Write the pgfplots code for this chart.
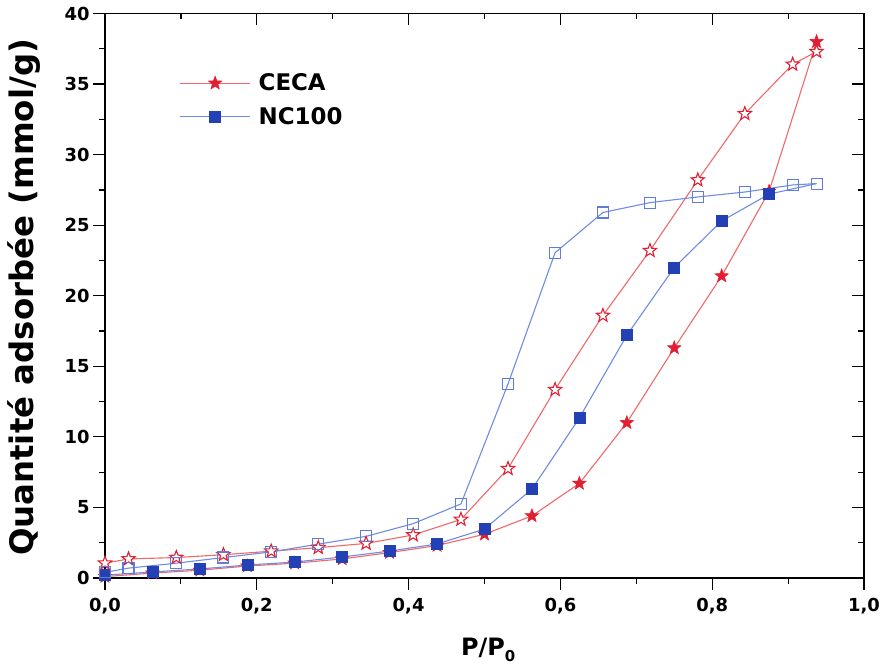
\documentclass[border=0pt]{standalone}
\usepackage{pgfplots}
\pgfplotsset{compat=1.18}
\usepackage{fontspec}
\setmainfont{DejaVu Sans}
\usetikzlibrary{calc}
\definecolor{cred}{RGB}{226,30,50}
\definecolor{credl}{RGB}{240,105,105}
\definecolor{cblue}{RGB}{35,65,180}
\definecolor{cbluel}{RGB}{110,140,225}
\pgfdeclareplotmark{fstar}{%
 \pgfpathmoveto{\pgfpointpolar{90}{\pgfplotmarksize}}%
 \pgfpathlineto{\pgfpointpolar{126}{0.42\pgfplotmarksize}}%
 \pgfpathlineto{\pgfpointpolar{162}{\pgfplotmarksize}}%
 \pgfpathlineto{\pgfpointpolar{198}{0.42\pgfplotmarksize}}%
 \pgfpathlineto{\pgfpointpolar{234}{\pgfplotmarksize}}%
 \pgfpathlineto{\pgfpointpolar{270}{0.42\pgfplotmarksize}}%
 \pgfpathlineto{\pgfpointpolar{306}{\pgfplotmarksize}}%
 \pgfpathlineto{\pgfpointpolar{342}{0.42\pgfplotmarksize}}%
 \pgfpathlineto{\pgfpointpolar{18}{\pgfplotmarksize}}%
 \pgfpathlineto{\pgfpointpolar{54}{0.42\pgfplotmarksize}}%
 \pgfpathclose
 \pgfusepathqfillstroke
}
\pgfplotsset{
 common/.style={scale only axis, width=759bp, height=564.5bp,
  xmin=0, xmax=1, ymin=0, ymax=40,
  xtick={0,0.2,0.4,0.6,0.8,1.0}, minor xtick={0.1,0.3,0.5,0.7,0.9},
  ytick={0,5,...,40}, minor ytick={2.5,7.5,...,37.5},
  major tick length=12bp, minor tick length=6bp,
  every tick/.style={black, line width=1.2bp},
  axis line style={line width=1.3bp, black, -},
 }
}
\begin{document}
\begin{tikzpicture}
\begin{axis}[common, name=ax,
 axis x line*=bottom, axis y line*=left, tick align=outside,
 /pgf/number format/assume math mode=true,
 xticklabel={\pgfmathprintnumber[fixed,fixed zerofill,precision=1,use comma]{\tick}},
 xticklabel style={font=\fontsize{18}{20}\selectfont\bfseries, yshift=-5bp},
 yticklabel style={font=\fontsize{18}{20}\selectfont\bfseries},
 xlabel={P/P\raisebox{-6bp}{\fontsize{15}{15}\selectfont 0}},
 xlabel style={at={(axis description cs:0.505,-0.137)}, anchor=base, font=\fontsize{24}{26}\selectfont\bfseries},
 ylabel={Quantité adsorbée (mmol/g)},
 ylabel style={at={(axis description cs:-0.107,0.497)}, anchor=center, font=\fontsize{32.5}{35}\selectfont\bfseries},
 legend style={at={(rel axis cs:0.098,0.895)}, anchor=north west, draw=none, fill=none,
   font=\fontsize{23}{26}\selectfont\bfseries, row sep=13bp, inner sep=0pt,
   nodes={inner xsep=8bp, inner ysep=1bp}},
 legend cell align=left,
 legend image code/.code={\draw[mark repeat=2, mark phase=2, #1] plot coordinates {(0bp,0bp) (35bp,0bp) (70bp,0bp)};},
]
% CECA adsorption
\addplot[credl, line width=1.1bp, mark=fstar, mark size=7bp,
  mark options={fill=cred, draw=cred, line width=0.6bp}]
 coordinates {(0,0.1)(0.0625,0.35)(0.125,0.55)(0.1875,0.85)(0.25,1.05)(0.3125,1.35)(0.375,1.8)(0.4375,2.3)(0.5,3.1)(0.5625,4.4)(0.625,6.7)(0.6875,11.0)(0.75,16.3)(0.8125,21.4)(0.875,27.4)(0.9375,38.0)};
\addlegendentry{CECA}
% NC100 adsorption
\addplot[cbluel, line width=1.1bp, mark=square*, mark size=5.5bp,
  mark options={fill=cblue, draw=cblue, line width=0.6bp}]
 coordinates {(0,0.2)(0.0625,0.43)(0.125,0.64)(0.1875,0.92)(0.25,1.13)(0.3125,1.49)(0.375,1.91)(0.4375,2.41)(0.5,3.47)(0.5625,6.3)(0.625,11.34)(0.6875,17.2)(0.75,22.0)(0.8125,25.3)(0.875,27.2)};
\addlegendentry{NC100}
\addplot[cbluel, line width=1.1bp, mark=none, forget plot]
 coordinates {(0.875,27.2)(0.9375,27.95)};
% CECA desorption
\addplot[credl, line width=1.1bp, mark=fstar, mark size=7bp, forget plot,
  mark options={fill=white, draw=cred, line width=1.1bp}]
 coordinates {(0.9375,37.3)(0.906,36.4)(0.843,32.9)(0.781,28.2)(0.718,23.2)(0.656,18.6)(0.593,13.35)(0.531,7.75)(0.469,4.15)(0.406,3.05)(0.344,2.45)(0.281,2.15)(0.219,1.9)(0.156,1.65)(0.094,1.45)(0.031,1.35)(0.0,1.05)};
% NC100 desorption
\addplot[cbluel, line width=1.1bp, mark=square, mark size=5.5bp, forget plot,
  mark options={fill=white, draw=cbluel!80!cblue, line width=1.1bp}]
 coordinates {(0.9375,27.95)(0.906,27.85)(0.843,27.35)(0.781,27.0)(0.718,26.6)(0.656,25.9)(0.593,23.05)(0.531,13.75)(0.469,5.25)(0.406,3.85)(0.344,2.95)(0.281,2.4)(0.219,1.85)(0.156,1.45)(0.094,1.05)(0.031,0.7)(0.0,0.4)};
\end{axis}
\begin{axis}[common,
 axis x line*=top, axis y line*=right, tick align=inside,
 xticklabels={}, yticklabels={}]
\end{axis}
\pgfresetboundingbox
\path ($(ax.south west)+(-105bp,-89bp)$) rectangle ($(ax.north east)+(20bp,13.5bp)$);
\end{tikzpicture}
\end{document}
